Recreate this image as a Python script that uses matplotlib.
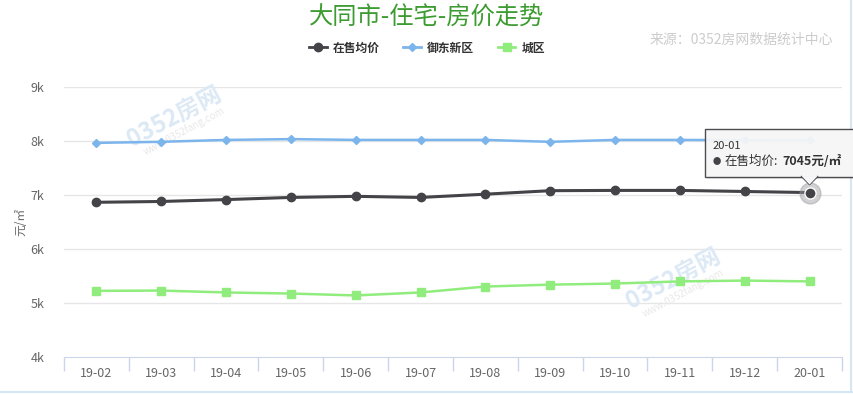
import matplotlib
matplotlib.use("Agg")
import matplotlib.pyplot as plt
from matplotlib.lines import Line2D
from matplotlib.patches import Rectangle, Polygon
import numpy as np

plt.rcParams['font.family'] = ['Noto Sans CJK SC', 'DejaVu Sans']

months = ['19-02', '19-03', '19-04', '19-05', '19-06', '19-07',
          '19-08', '19-09', '19-10', '19-11', '19-12', '20-01']
avg_price = [6865, 6880, 6915, 6955, 6975, 6955, 7015, 7080, 7085, 7085, 7065, 7045]
yudong = [7965, 7985, 8020, 8035, 8020, 8020, 8020, 7985, 8020, 8020, 8015, 8010]
chengqu = [5225, 5230, 5195, 5175, 5140, 5195, 5305, 5340, 5360, 5400, 5415, 5400]
yticks = [4000, 5000, 6000, 7000, 8000, 9000]
ytick_labels = ['4k', '5k', '6k', '7k', '8k', '9k']

c_black = '#434348'
c_blue = '#7cb5ec'
c_green = '#90ed7d'

W, H = 854, 395
fig = plt.figure(figsize=(W / 100, H / 100), dpi=100)
ax = fig.add_axes([64 / W, (H - 357) / H, (842 - 64) / W, (357 - 87) / H])

x = np.arange(len(months))
ax.set_xlim(-0.5, len(months) - 0.5)
ax.set_ylim(4000, 9000)

# grid
for v in yticks[1:]:
    ax.axhline(v, color='#e6e6e6', lw=1, zorder=0)

# faint watermarks
for wx, wy in [(1.2, 8450), (8.9, 5450)]:
    ax.text(wx, wy, '0352房网', fontsize=17, color='#dce9f5', rotation=28,
            ha='center', va='center', zorder=1, fontweight='bold')
    ax.text(wx + 0.15, wy - 260, 'www.0352fang.com', fontsize=7, color='#e8e8e8',
            rotation=28, ha='center', va='center', zorder=1)

ax.plot(x, yudong, color=c_blue, lw=1.8, marker='D', ms=4.5, zorder=3)
ax.plot(x, chengqu, color=c_green, lw=1.8, marker='s', ms=6, zorder=3)
ax.plot(x, avg_price, color=c_black, lw=2.2, marker='o', ms=6, zorder=4)

# hovered point
ax.plot(x[-1], avg_price[-1], 'o', ms=15, color='#9a9a9e', alpha=0.45, zorder=5)
ax.plot(x[-1], avg_price[-1], 'o', ms=8, color=c_black, mec='white', mew=1, zorder=6)

# axes styling
for s in ['top', 'right', 'left']:
    ax.spines[s].set_visible(False)
ax.spines['bottom'].set_color('#ccd6eb')
ax.set_yticks(yticks)
ax.set_yticklabels(ytick_labels)
ax.tick_params(axis='y', length=0, pad=14, labelsize=9, labelcolor='#666666')
ax.set_xticks(x)
ax.set_xticklabels(months)
ax.tick_params(axis='x', length=0, pad=7, labelsize=9, labelcolor='#666666')
ax.set_xticks(np.arange(-0.5, len(months)), minor=True)
ax.tick_params(axis='x', which='minor', length=10, color='#ccd6eb', width=1)
ax.set_ylabel('元/㎡', fontsize=8.5, color='#666666', labelpad=2)

# title, legend, source
fig.text(0.5, 1 - 18 / H, '大同市-住宅-房价走势', ha='center', va='center',
         fontsize=17.5, color='#3d9c31')
fig.text(833 / W, 1 - 40 / H, '来源：0352房网数据统计中心', ha='right', va='center',
         fontsize=10, color='#cccccc')
handles = [Line2D([], [], color=c_black, lw=2, marker='o', ms=6),
           Line2D([], [], color=c_blue, lw=2, marker='D', ms=4.5),
           Line2D([], [], color=c_green, lw=2, marker='s', ms=6)]
leg = fig.legend(handles, ['在售均价', '御东新区', '城区'], loc='center',
                 bbox_to_anchor=(0.5, 1 - 48 / H), ncol=3, frameon=False,
                 handlelength=1.5, columnspacing=2.0, handletextpad=0.5,
                 prop={'size': 8.5, 'weight': 'bold'})
for t in leg.get_texts():
    t.set_color('#333333')

# tooltip
fig.canvas.draw()
px, py = ax.transData.transform((x[-1], avg_price[-1]))
bl, br, bb, bt = px - 105, px + 44, py + 16, py + 64
fig.patches.append(Rectangle((bl + 2, bb - 2), br - bl, bt - bb, transform=None,
                             facecolor='#000000', alpha=0.08, zorder=9))
fig.patches.append(Rectangle((bl, bb), br - bl, bt - bb, transform=None,
                             facecolor='#f7f7f7', edgecolor=c_black, lw=1,
                             alpha=0.95, zorder=10))
fig.patches.append(Polygon([(px - 8, bb + 0.5), (px + 8, bb + 0.5), (px, bb - 8)],
                           closed=True, transform=None, facecolor='#f7f7f7',
                           edgecolor='none', zorder=11))
fig.lines.append(Line2D([px - 8, px, px + 8], [bb, bb - 8, bb], transform=None,
                        color=c_black, lw=1, zorder=11))
fig.text((bl + 8) / W, (bt - 17) / H, months[-1], fontsize=8, color='#333333',
         ha='left', va='center', zorder=12)
fig.text((bl + 8) / W, (bt - 33) / H, '●', fontsize=6, color=c_black,
         ha='left', va='center', zorder=12)
fig.text((bl + 20) / W, (bt - 33) / H, '在售均价:', fontsize=9, color='#333333',
         ha='left', va='center', zorder=12)
fig.text((bl + 78) / W, (bt - 33) / H, f'{avg_price[-1]}元/㎡', fontsize=9,
         color='#333333', ha='left', va='center', fontweight='bold', zorder=12)

# page borders
fig.lines.append(Line2D([0, 1], [3 / H, 3 / H], transform=fig.transFigure,
                        color='#d6e6f4', lw=1.5))
fig.lines.append(Line2D([851 / W, 851 / W], [3 / H, 1], transform=fig.transFigure,
                        color='#d6e6f4', lw=1.5))

fig.savefig('out.png', dpi=100)
